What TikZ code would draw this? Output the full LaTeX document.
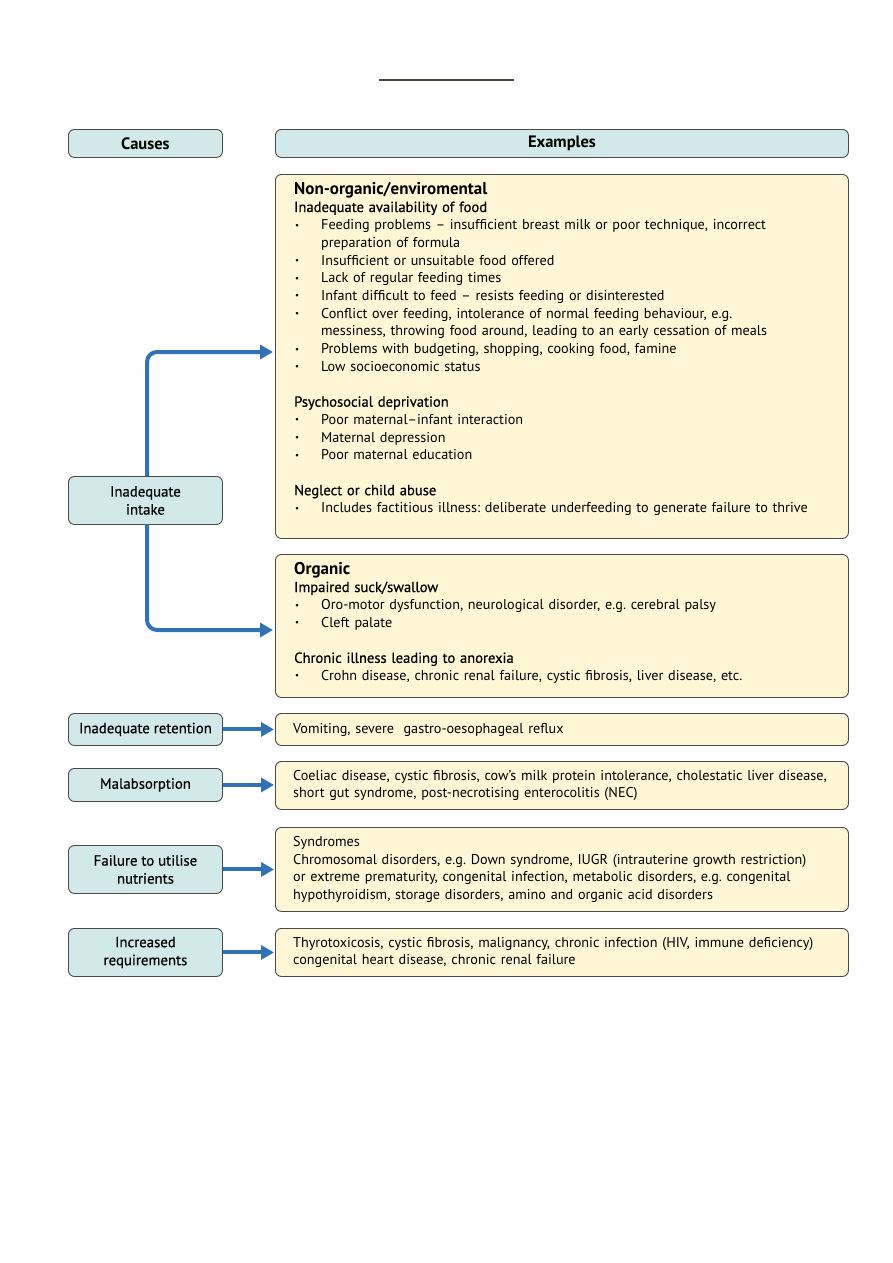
\documentclass[tikz,border=0pt]{standalone}
\usepackage{fontspec}
\setmainfont{PT Sans}
\newfontfamily\semib[FakeBold=0.5]{PT Sans}
\usetikzlibrary{arrows.meta}
\definecolor{causefill}{HTML}{D2E9EA}
\definecolor{exfill}{HTML}{FDF7D6}
\definecolor{boxline}{HTML}{4A4A4A}
\definecolor{flowblue}{HTML}{2F72B6}
\definecolor{titleline}{HTML}{3F4F3C}
\newcommand{\bitem}[1]{\par\hangindent=27pt\hangafter=1\noindent\makebox[27pt][l]{\hspace{1pt}\raisebox{1.6pt}{\fontsize{9}{9}\selectfont •}}#1}
\newcommand{\nl}{\hfill\break}
\newcommand{\blankline}{\par\vskip 17.7pt}
\frenchspacing
\begin{document}
\begin{tikzpicture}[x=1pt,y=-1pt,
  box/.style={draw=boxline, line width=0.9pt, rounded corners=6pt, anchor=north west, inner sep=0pt},
  cause/.style={box, fill=causefill, minimum width=154pt, align=center, font=\semib\fontsize{14.8}{18}\selectfont},
  example/.style={box, fill=exfill, minimum width=573pt},
  body/.style={inner sep=0pt, text width=552pt, align=left, font=\fontsize{14.2}{17.7}\selectfont},
  flow/.style={draw=flowblue, line width=4pt, -{Triangle[length=13pt,width=14pt]}, shorten >=1pt}
]
\useasboundingbox (0,0) rectangle (893,1263);
% title rule
\coordinate (t1) at (379,80);
\coordinate (t2) at (514,80);
\draw[titleline, line width=2pt] (t1) -- (t2);

% header row
\node[cause, minimum height=28pt, font=\bfseries\fontsize{16.5}{18}\selectfont] (causes) at (68,129) {Causes};
\node[example, minimum height=28pt, fill=causefill, font=\bfseries\fontsize{16.5}{18}\selectfont] (examples) at (275,129) {Examples};

% boxes
\node[example, minimum height=364pt] (nonorg) at (275,174) {};
\node[example, minimum height=143pt] (organic) at (275,554) {};
\node[cause, minimum height=48pt] (intake) at (68,476) {Inadequate\\intake};

\node[cause, minimum height=32pt] (retention) at (68,713) {Inadequate retention};
\node[example, minimum height=32pt] (retex) at (275,713) {};
\node[cause, minimum height=33pt] (malabs) at (68,768) {Malabsorption};
\node[example, minimum height=48pt] (malex) at (275,761) {};
\node[cause, minimum height=48pt] (utilise) at (68,845) {Failure to utilise\\nutrients};
\node[example, minimum height=84pt] (utilex) at (275,827) {};
\node[cause, minimum height=48pt] (increased) at (68,928) {Increased\\requirements};
\node[example, minimum height=48pt] (incex) at (275,928) {};

% texts
\node[body, anchor=north west] (nonorgtxt) at (294,182) {%
{\bfseries\fontsize{17}{17.7}\selectfont Non-organic/enviromental}\par
{\semib\fontsize{14.6}{17.7}\selectfont Inadequate availability of food}
\bitem{Feeding problems – insufficient breast milk or poor technique, incorrect\nl preparation of formula}
\bitem{Insufficient or unsuitable food offered}
\bitem{Lack of regular feeding times}
\bitem{Infant difficult to feed – resists feeding or disinterested}
\bitem{Conflict over feeding, intolerance of normal feeding behaviour, e.g.\nl messiness, throwing food around, leading to an early cessation of meals}
\bitem{Problems with budgeting, shopping, cooking food, famine}
\bitem{Low socioeconomic status}
\blankline
\noindent{\semib\fontsize{14.6}{17.7}\selectfont Psychosocial deprivation}
\bitem{Poor maternal–infant interaction}
\bitem{Maternal depression}
\bitem{Poor maternal education}
\blankline
\noindent{\semib\fontsize{14.6}{17.7}\selectfont Neglect or child abuse}
\bitem{Includes factitious illness: deliberate underfeeding to generate failure to thrive}\par};

\node[body, anchor=north west] (organictxt) at (294,562) {%
{\bfseries\fontsize{17}{17.7}\selectfont Organic}\par
{\semib\fontsize{14.6}{17.7}\selectfont Impaired suck/swallow}
\bitem{Oro-motor dysfunction, neurological disorder, e.g. cerebral palsy}
\bitem{Cleft palate}
\blankline
\noindent{\semib\fontsize{14.6}{17.7}\selectfont Chronic illness leading to anorexia}
\bitem{Crohn disease, chronic renal failure, cystic fibrosis, liver disease, etc.}\par};

\node[body, anchor=west] (retextxt) at ([xshift=18pt]retex.west) {Vomiting, severe\ \ gastro-oesophageal reflux};
\node[body, anchor=west] (malextxt) at ([xshift=18pt]malex.west) {Coeliac disease, cystic fibrosis, cow’s milk protein intolerance, cholestatic liver disease,\\short gut syndrome, post-necrotising enterocolitis (NEC)};
\node[body, anchor=west] (utilextxt) at ([xshift=18pt]utilex.west) {Syndromes\\Chromosomal disorders, e.g. Down syndrome, IUGR (intrauterine growth restriction)\\or extreme prematurity, congenital infection, metabolic disorders, e.g. congenital\\hypothyroidism, storage disorders, amino and organic acid disorders};
\node[body, anchor=west] (incextxt) at ([xshift=18pt]incex.west) {Thyrotoxicosis, cystic fibrosis, malignancy, chronic infection (HIV, immune deficiency)\\congenital heart disease, chronic renal failure};

% connectors
\coordinate (a1) at (274,352);
\coordinate (a2) at (274,630);
\coordinate (up) at (147,476);
\coordinate (down) at (147,524);
\draw[flow, rounded corners=10pt] (up) |- (a1);
\draw[flow, rounded corners=10pt] (down) |- (a2);
\draw[flow] (retention.east) -- (retex.west);
\draw[flow] (malabs.east) -- (malabs.east -| malex.west);
\draw[flow] (utilise.east) -- (utilex.west);
\draw[flow] (increased.east) -- (incex.west);
\end{tikzpicture}
\end{document}
